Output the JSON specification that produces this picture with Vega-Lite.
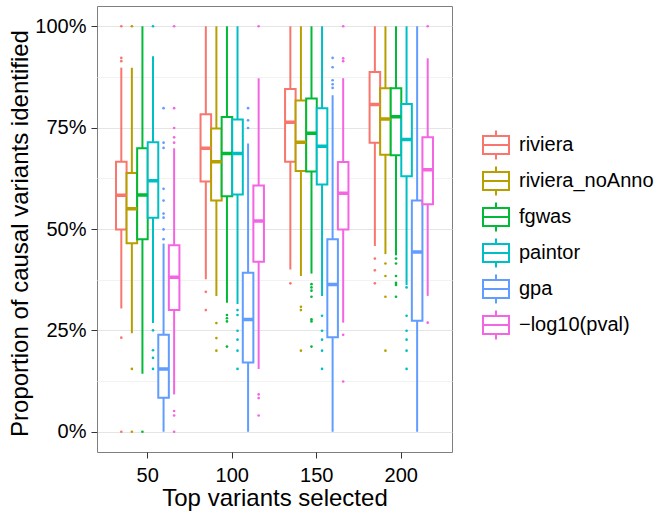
{
  "$schema": "https://vega.github.io/schema/vega-lite/v6.json",
  "width": 355,
  "height": 446,
  "autosize": {"type": "none"},
  "padding": {"left": 97, "top": 6, "right": 209, "bottom": 65},
  "background": "white",
  "config": {
    "font": "Liberation Sans",
    "view": {"stroke": "#7f7f7f", "strokeWidth": 1},
    "axis": {
      "labelFont": "Liberation Sans",
      "labelFontSize": 20,
      "labelColor": "black",
      "titleFont": "Liberation Sans",
      "titleFontSize": 24,
      "titleFontWeight": "normal",
      "titleColor": "black",
      "tickColor": "#333333",
      "tickSize": 6,
      "tickWidth": 1,
      "domain": false,
      "gridColor": "#E5E5E5",
      "gridWidth": 1
    }
  },
  "datasets": {
    "stats": [
      {"g": 50, "m": "riviera", "lo": 0.304, "q1": 0.499, "med": 0.583, "q3": 0.666, "hi": 0.898},
      {"g": 50, "m": "riviera_noAnno", "lo": 0.243, "q1": 0.465, "med": 0.55, "q3": 0.638, "hi": 0.898},
      {"g": 50, "m": "fgwas", "lo": 0.143, "q1": 0.475, "med": 0.584, "q3": 0.699, "hi": 1.0},
      {"g": 50, "m": "paintor", "lo": 0.268, "q1": 0.528, "med": 0.619, "q3": 0.714, "hi": 0.926},
      {"g": 50, "m": "gpa", "lo": 0.0, "q1": 0.084, "med": 0.155, "q3": 0.239, "hi": 0.464},
      {"g": 50, "m": "−log10(pval)", "lo": 0.092, "q1": 0.30, "med": 0.381, "q3": 0.46, "hi": 0.699},
      {"g": 100, "m": "riviera", "lo": 0.376, "q1": 0.617, "med": 0.699, "q3": 0.783, "hi": 1.0},
      {"g": 100, "m": "riviera_noAnno", "lo": 0.335, "q1": 0.57, "med": 0.666, "q3": 0.748, "hi": 1.0},
      {"g": 100, "m": "fgwas", "lo": 0.318, "q1": 0.581, "med": 0.686, "q3": 0.776, "hi": 1.0},
      {"g": 100, "m": "paintor", "lo": 0.315, "q1": 0.585, "med": 0.686, "q3": 0.77, "hi": 1.0},
      {"g": 100, "m": "gpa", "lo": 0.0, "q1": 0.171, "med": 0.277, "q3": 0.392, "hi": 0.711},
      {"g": 100, "m": "−log10(pval)", "lo": 0.155, "q1": 0.419, "med": 0.52, "q3": 0.607, "hi": 0.872},
      {"g": 150, "m": "riviera", "lo": 0.40, "q1": 0.666, "med": 0.763, "q3": 0.845, "hi": 1.0},
      {"g": 150, "m": "riviera_noAnno", "lo": 0.384, "q1": 0.643, "med": 0.714, "q3": 0.817, "hi": 1.0},
      {"g": 150, "m": "fgwas", "lo": 0.39, "q1": 0.642, "med": 0.736, "q3": 0.822, "hi": 1.0},
      {"g": 150, "m": "paintor", "lo": 0.335, "q1": 0.61, "med": 0.704, "q3": 0.798, "hi": 1.0},
      {"g": 150, "m": "gpa", "lo": 0.0, "q1": 0.233, "med": 0.363, "q3": 0.475, "hi": 0.83},
      {"g": 150, "m": "−log10(pval)", "lo": 0.269, "q1": 0.499, "med": 0.588, "q3": 0.665, "hi": 0.872},
      {"g": 200, "m": "riviera", "lo": 0.458, "q1": 0.713, "med": 0.807, "q3": 0.887, "hi": 1.0},
      {"g": 200, "m": "riviera_noAnno", "lo": 0.438, "q1": 0.683, "med": 0.771, "q3": 0.847, "hi": 1.0},
      {"g": 200, "m": "fgwas", "lo": 0.435, "q1": 0.682, "med": 0.777, "q3": 0.847, "hi": 1.0},
      {"g": 200, "m": "paintor", "lo": 0.362, "q1": 0.63, "med": 0.721, "q3": 0.808, "hi": 1.0},
      {"g": 200, "m": "gpa", "lo": 0.0, "q1": 0.274, "med": 0.443, "q3": 0.57, "hi": 1.0},
      {"g": 200, "m": "−log10(pval)", "lo": 0.335, "q1": 0.561, "med": 0.646, "q3": 0.726, "hi": 0.921}
    ],
    "outliers": [
      {"g": 50, "m": "riviera", "v": 1.0},
      {"g": 50, "m": "riviera", "v": 0.922},
      {"g": 50, "m": "riviera", "v": 0.914},
      {"g": 50, "m": "riviera", "v": 0.232},
      {"g": 50, "m": "riviera", "v": 0.0},
      {"g": 50, "m": "riviera_noAnno", "v": 1.0},
      {"g": 50, "m": "riviera_noAnno", "v": 0.155},
      {"g": 50, "m": "riviera_noAnno", "v": 0.0},
      {"g": 50, "m": "fgwas", "v": 0.0},
      {"g": 50, "m": "paintor", "v": 1.0},
      {"g": 50, "m": "paintor", "v": 0.25},
      {"g": 50, "m": "paintor", "v": 0.201},
      {"g": 50, "m": "paintor", "v": 0.182},
      {"g": 50, "m": "paintor", "v": 0.155},
      {"g": 50, "m": "gpa", "v": 0.798},
      {"g": 50, "m": "gpa", "v": 0.713},
      {"g": 50, "m": "gpa", "v": 0.70},
      {"g": 50, "m": "gpa", "v": 0.599},
      {"g": 50, "m": "gpa", "v": 0.57},
      {"g": 50, "m": "gpa", "v": 0.538},
      {"g": 50, "m": "gpa", "v": 0.528},
      {"g": 50, "m": "gpa", "v": 0.499},
      {"g": 50, "m": "gpa", "v": 0.475},
      {"g": 50, "m": "−log10(pval)", "v": 1.0},
      {"g": 50, "m": "−log10(pval)", "v": 0.798},
      {"g": 50, "m": "−log10(pval)", "v": 0.749},
      {"g": 50, "m": "−log10(pval)", "v": 0.726},
      {"g": 50, "m": "−log10(pval)", "v": 0.713},
      {"g": 50, "m": "−log10(pval)", "v": 0.051},
      {"g": 50, "m": "−log10(pval)", "v": 0.04},
      {"g": 50, "m": "−log10(pval)", "v": 0.0},
      {"g": 100, "m": "riviera", "v": 0.345},
      {"g": 100, "m": "riviera", "v": 0.30},
      {"g": 100, "m": "riviera_noAnno", "v": 0.268},
      {"g": 100, "m": "riviera_noAnno", "v": 0.231},
      {"g": 100, "m": "riviera_noAnno", "v": 0.20},
      {"g": 100, "m": "fgwas", "v": 0.288},
      {"g": 100, "m": "fgwas", "v": 0.28},
      {"g": 100, "m": "fgwas", "v": 0.272},
      {"g": 100, "m": "fgwas", "v": 0.21},
      {"g": 100, "m": "paintor", "v": 0.30},
      {"g": 100, "m": "paintor", "v": 0.288},
      {"g": 100, "m": "paintor", "v": 0.249},
      {"g": 100, "m": "paintor", "v": 0.227},
      {"g": 100, "m": "paintor", "v": 0.20},
      {"g": 100, "m": "paintor", "v": 0.155},
      {"g": 100, "m": "gpa", "v": 0.798},
      {"g": 100, "m": "gpa", "v": 0.768},
      {"g": 100, "m": "gpa", "v": 0.749},
      {"g": 100, "m": "−log10(pval)", "v": 1.0},
      {"g": 100, "m": "−log10(pval)", "v": 0.092},
      {"g": 100, "m": "−log10(pval)", "v": 0.083},
      {"g": 100, "m": "−log10(pval)", "v": 0.04},
      {"g": 150, "m": "riviera", "v": 0.366},
      {"g": 150, "m": "riviera_noAnno", "v": 0.308},
      {"g": 150, "m": "riviera_noAnno", "v": 0.30},
      {"g": 150, "m": "riviera_noAnno", "v": 0.20},
      {"g": 150, "m": "fgwas", "v": 0.364},
      {"g": 150, "m": "fgwas", "v": 0.356},
      {"g": 150, "m": "fgwas", "v": 0.348},
      {"g": 150, "m": "fgwas", "v": 0.333},
      {"g": 150, "m": "fgwas", "v": 0.277},
      {"g": 150, "m": "fgwas", "v": 0.272},
      {"g": 150, "m": "fgwas", "v": 0.21},
      {"g": 150, "m": "paintor", "v": 0.286},
      {"g": 150, "m": "paintor", "v": 0.249},
      {"g": 150, "m": "paintor", "v": 0.227},
      {"g": 150, "m": "paintor", "v": 0.20},
      {"g": 150, "m": "paintor", "v": 0.155},
      {"g": 150, "m": "gpa", "v": 0.922},
      {"g": 150, "m": "gpa", "v": 0.899},
      {"g": 150, "m": "gpa", "v": 0.867},
      {"g": 150, "m": "gpa", "v": 0.857},
      {"g": 150, "m": "gpa", "v": 0.848},
      {"g": 150, "m": "−log10(pval)", "v": 1.0},
      {"g": 150, "m": "−log10(pval)", "v": 0.921},
      {"g": 150, "m": "−log10(pval)", "v": 0.914},
      {"g": 150, "m": "−log10(pval)", "v": 0.239},
      {"g": 150, "m": "−log10(pval)", "v": 0.124},
      {"g": 200, "m": "riviera", "v": 0.427},
      {"g": 200, "m": "riviera", "v": 0.398},
      {"g": 200, "m": "riviera", "v": 0.366},
      {"g": 200, "m": "riviera_noAnno", "v": 0.415},
      {"g": 200, "m": "riviera_noAnno", "v": 0.384},
      {"g": 200, "m": "riviera_noAnno", "v": 0.333},
      {"g": 200, "m": "riviera_noAnno", "v": 0.20},
      {"g": 200, "m": "fgwas", "v": 0.427},
      {"g": 200, "m": "fgwas", "v": 0.415},
      {"g": 200, "m": "fgwas", "v": 0.384},
      {"g": 200, "m": "fgwas", "v": 0.367},
      {"g": 200, "m": "fgwas", "v": 0.362},
      {"g": 200, "m": "fgwas", "v": 0.333},
      {"g": 200, "m": "paintor", "v": 0.356},
      {"g": 200, "m": "paintor", "v": 0.286},
      {"g": 200, "m": "paintor", "v": 0.249},
      {"g": 200, "m": "paintor", "v": 0.227},
      {"g": 200, "m": "paintor", "v": 0.20},
      {"g": 200, "m": "paintor", "v": 0.155},
      {"g": 200, "m": "−log10(pval)", "v": 1.0},
      {"g": 200, "m": "−log10(pval)", "v": 0.269}
    ]
  },
  "encoding": {
    "x": {
      "field": "g",
      "type": "ordinal",
      "title": "Top variants selected",
      "scale": {"paddingInner": 0.25, "paddingOuter": 0.225},
      "axis": {
        "labelAngle": 0,
        "bandPosition": 0.5,
        "labelPadding": 7,
        "titleY": 53,
        "titleBaseline": "alphabetic"
      }
    },
    "xOffset": {
      "field": "m",
      "type": "nominal",
      "scale": {
        "domain": ["riviera", "riviera_noAnno", "fgwas", "paintor", "gpa", "−log10(pval)"],
        "paddingInner": 0,
        "paddingOuter": 0
      }
    }
  },
  "layer": [
    {
      "data": {"name": "stats"},
      "encoding": {
        "stroke": {
          "field": "m",
          "type": "nominal",
          "scale": {
            "domain": ["riviera", "riviera_noAnno", "fgwas", "paintor", "gpa", "−log10(pval)"],
            "range": ["#F8766D", "#B79F00", "#00BA38", "#00BFC4", "#619CFF", "#F564E3"]
          },
          "legend": {
            "orient": "none",
            "legendX": 381,
            "legendY": 121,
            "title": null,
            "padding": 0,
            "symbolType": "M-0.776,-0.537H0.776 M0.776,-0.537V0.537 M0.776,0.537H-0.776 M-0.776,0.537V-0.537 M-0.776,0H0.776 M0,-0.537V-0.81 M0,0.537V0.81",
            "symbolSize": 1122,
            "symbolStrokeWidth": 2,
            "symbolFillColor": "transparent",
            "symbolOpacity": 1,
            "labelFont": "Liberation Sans",
            "labelFontSize": 20,
            "labelColor": "black",
            "labelOffset": 5,
            "rowPadding": 0,
            "labelLimit": 300,
            "encode": {
              "symbols": {
                "update": {
                  "strokeCap": {"value": "square"}
                }
              }
            }
          }
        }
      },
      "layer": [
        {
          "mark": {"type": "rule", "strokeWidth": 2, "xOffset": 5.28},
          "encoding": {
            "y": {
              "field": "lo",
              "type": "quantitative",
              "title": "Proportion of causal variants identified",
              "scale": {"domain": [-0.05, 1.05], "nice": false, "zero": false},
              "axis": {
                "values": [0, 0.125, 0.25, 0.375, 0.5, 0.625, 0.75, 0.875, 1],
                "labelExpr": "(datum.value*8)%2==0 ? format(datum.value,'.0%') : ''",
                "tickOpacity": {"condition": {"test": "(datum.value*8)%2==1", "value": 0}, "value": 1},
                "gridColor": {"condition": {"test": "(datum.value*8)%2==1", "value": "#F2F2F2"}, "value": "#E5E5E5"},
                "labelPadding": 5,
                "titleX": -77,
                "titleY": 227,
                "titleBaseline": "middle"
              }
            },
            "y2": {"field": "hi"}
          }
        },
        {
          "mark": {"type": "bar", "fill": "white", "strokeWidth": 2},
          "encoding": {
            "y": {"field": "q1", "type": "quantitative"},
            "y2": {"field": "q3"}
          }
        },
        {
          "mark": {"type": "bar", "fill": "transparent", "strokeWidth": 3.5},
          "encoding": {
            "y": {"field": "med", "type": "quantitative"},
            "y2": {"field": "med"}
          }
        }
      ]
    },
    {
      "data": {"name": "outliers"},
      "mark": {"type": "circle", "size": 7, "opacity": 1, "xOffset": 5.28},
      "encoding": {
        "fill": {
          "field": "m",
          "type": "nominal",
          "legend": null,
          "scale": {
            "domain": ["riviera", "riviera_noAnno", "fgwas", "paintor", "gpa", "−log10(pval)"],
            "range": ["#F8766D", "#B79F00", "#00BA38", "#00BFC4", "#619CFF", "#F564E3"]
          }
        },
        "y": {"field": "v", "type": "quantitative"}
      }
    }
  ]
}
